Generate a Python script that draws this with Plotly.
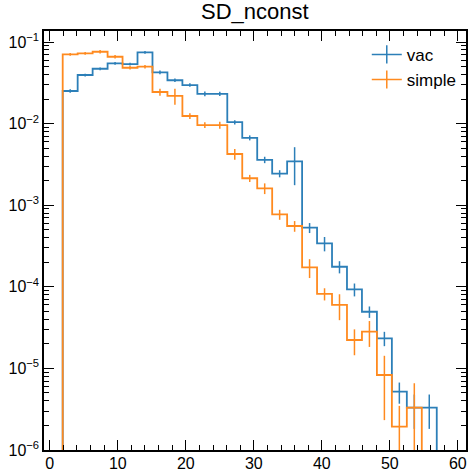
import plotly.graph_objects as go

# ---- data ----
bin_edges = [1.9, 4.1, 6.3, 8.5, 10.7, 12.9, 15.1, 17.3, 19.5, 21.7, 23.9, 26.1, 28.3,
             30.5, 32.7, 34.9, 37.1, 39.3, 41.5, 43.7, 45.9, 48.1, 50.3, 52.5, 54.7, 56.9]

vac = [0.0251, 0.0394, 0.047, 0.0547, 0.0537, 0.0748, 0.0425, 0.034, 0.0297, 0.0232,
       0.0232, 0.0104, 0.0067, 0.0036, 0.00244, 0.00345, 0.00053, 0.00034, 0.000176,
       9.3e-5, 4.95e-5, 2.34e-5, 5.2e-6, 3.3e-6, 3.3e-6]
vac_relerr = [0.05, 0.04, 0.04, 0.04, 0.04, 0.04, 0.05, 0.05, 0.05, 0.07, 0.06, 0.06,
              0.07, 0.09, 0.1, 0.49, 0.14, 0.2, 0.17, 0.18, 0.16, 0.2, 0.29, 0.45, 0.45]

simple = [0.0706, 0.0727, 0.076, 0.066, 0.0484, 0.0498, 0.0244, 0.0219, 0.0124, 0.0096,
          0.0096, 0.00424, 0.00214, 0.00161, 0.00077, 0.000556, 0.000173, 8.2e-5, 6.0e-5,
          2.23e-5, 2.82e-5, 8.3e-6, 1.93e-6, 3.3e-6, 0.0]
simple_relerr = [0.04, 0.04, 0.05, 0.05, 0.05, 0.05, 0.1, 0.22, 0.08, 0.08, 0.1, 0.15,
                 0.1, 0.15, 0.14, 0.15, 0.26, 0.17, 0.35, 0.35, 0.35, 0.72, 0.8, 1.0, 0.0]

series = [("vac", vac, vac_relerr, "#2c7fb8"),
          ("simple", simple, simple_relerr, "#ff8a1f")]

title = "SD_nconst"
x_ticks = [0, 10, 20, 30, 40, 50, 60]
y_exponents = [-6, -5, -4, -3, -2, -1]

FLOOR = 1e-12
FONT = "Liberation Sans, Arial, sans-serif"

fig = go.Figure()
centers = [(a + b) / 2 for a, b in zip(bin_edges[:-1], bin_edges[1:])]

for name, vals, rel, color in series:
    ys = [v if v > 0 else FLOOR for v in vals]
    # step outline
    fig.add_trace(go.Scatter(
        x=[bin_edges[0]] + bin_edges,
        y=[FLOOR] + ys + [FLOOR],
        mode="lines", line=dict(color=color, width=1.8, shape="hv"),
        showlegend=False, hoverinfo="skip"))
    # error bars at bin centres
    cx = [c for c, v in zip(centers, vals) if v > 0]
    cy = [v for v in vals if v > 0]
    ce = [v * r for v, r in zip(vals, rel) if v > 0]
    fig.add_trace(go.Scatter(
        x=cx, y=cy, mode="markers",
        marker=dict(size=0.1, color=color),
        error_y=dict(type="data", array=ce, arrayminus=ce, visible=True,
                     color=color, thickness=1.5, width=0),
        showlegend=False, hoverinfo="skip"))

# legend entries ("+" style)
for name, vals, rel, color in series:
    fig.add_trace(go.Scatter(
        x=[None], y=[None], mode="lines+markers", name=name,
        line=dict(color=color, width=1.5),
        marker=dict(symbol="line-ns", size=13, color=color,
                    line=dict(color=color, width=1.5))))

minor_y = [m * 10 ** e for e in range(-6, 0) for m in range(2, 10)]

fig.update_layout(
    width=472, height=471,
    margin=dict(l=44, r=6, t=31, b=21, autoexpand=False),
    paper_bgcolor="white", plot_bgcolor="white",
    font=dict(family=FONT, size=17, color="black"),
    title=dict(text=title, x=0.54, xanchor="center", y=0.992, yanchor="top",
               font=dict(family=FONT, size=22, color="black")),
    legend=dict(x=0.99, xanchor="right", y=0.986, yanchor="top",
                bgcolor="rgba(0,0,0,0)", font=dict(family=FONT, size=17),
                itemwidth=30, tracegroupgap=0),
    xaxis=dict(range=[-0.85, 61.2], showgrid=False, zeroline=False, automargin=False,
               showline=True, linecolor="black", linewidth=1.5, mirror="allticks",
               ticks="inside", ticklen=10, tickwidth=1, tickcolor="black",
               tickmode="array", tickvals=x_ticks, ticktext=[str(t) for t in x_ticks],
               ticklabelstandoff=-2,
               minor=dict(ticks="inside", ticklen=5, tickwidth=1, tickcolor="black",
                          dtick=2, showgrid=False),
               tickfont=dict(family=FONT, size=16)),
    yaxis=dict(type="log", range=[-6, -0.865], showgrid=False, zeroline=False,
               automargin=False,
               showline=True, linecolor="black", linewidth=1.5, mirror="allticks",
               ticks="inside", ticklen=10, tickwidth=1, tickcolor="black",
               tickmode="array", tickvals=[10 ** e for e in y_exponents],
               ticktext=["10<sup>\u2212%d</sup>" % (-e) for e in y_exponents],
               minor=dict(ticks="inside", ticklen=5, tickwidth=1, tickcolor="black",
                          tickmode="array", tickvals=minor_y, showgrid=False),
               tickfont=dict(family=FONT, size=16)),
)

fig.write_html("out.html", config={"displayModeBar": False},
               post_script="document.body.style.margin='0';document.body.style.padding='0';")
